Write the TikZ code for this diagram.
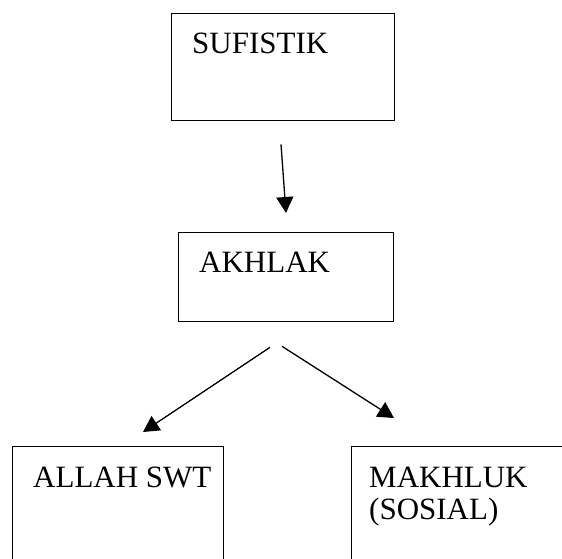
\documentclass[tikz,border=0pt]{standalone}
\usepackage{fontspec}
\setmainfont{Liberation Serif}
\usetikzlibrary{arrows.meta}
\begin{document}
\begin{tikzpicture}[x=1pt,y=-1pt,
  box/.style={draw,line width=1.3pt,rectangle,anchor=north west,inner sep=0pt},
  lbl/.style={anchor=base west,inner sep=0pt,font=\fontsize{31}{32}\selectfont,align=left},
  arr/.style={line width=1.3pt,-{Triangle[length=16pt,width=17pt]}}]
\useasboundingbox (0,0) rectangle (562,558);
\clip (0,0) rectangle (562,558);
% boxes
\node[box,minimum width=223pt,minimum height=107pt] (suf) at (171,13) {};
\node[box,minimum width=215pt,minimum height=89pt] (akh) at (178,232) {};
\node[box,minimum width=211pt,minimum height=150pt] (allah) at (12,446) {};
\node[box,minimum width=250pt,minimum height=150pt] (makh) at (351,446) {};
% labels
\node[lbl] (suft) at ([shift={(21,40)}]suf.north west) {SUFISTIK};
\node[lbl] (akht) at ([shift={(21,40)}]akh.north west) {AKHLAK};
\node[lbl] (allaht) at ([shift={(21,41)}]allah.north west) {ALLAH SWT};
\node[lbl] (makht) at ([shift={(18,73)}]makh.north west) {MAKHLUK\\(SOSIAL)};
% arrow end points
\coordinate (a1s) at ([shift={(110,23)}]suf.south west);
\coordinate (a1e) at ([shift={(108,-19)}]akh.north west);
\coordinate (a2s) at ([shift={(92,25)}]akh.south west);
\coordinate (a2e) at ([shift={(131,-14)}]allah.north west);
\coordinate (a3s) at ([shift={(104,24)}]akh.south west);
\coordinate (a3e) at ([shift={(43,-28)}]makh.north west);
\draw[arr] (a1s) -- (a1e);
\draw[arr] (a2s) -- (a2e);
\draw[arr] (a3s) -- (a3e);
\end{tikzpicture}
\end{document}
